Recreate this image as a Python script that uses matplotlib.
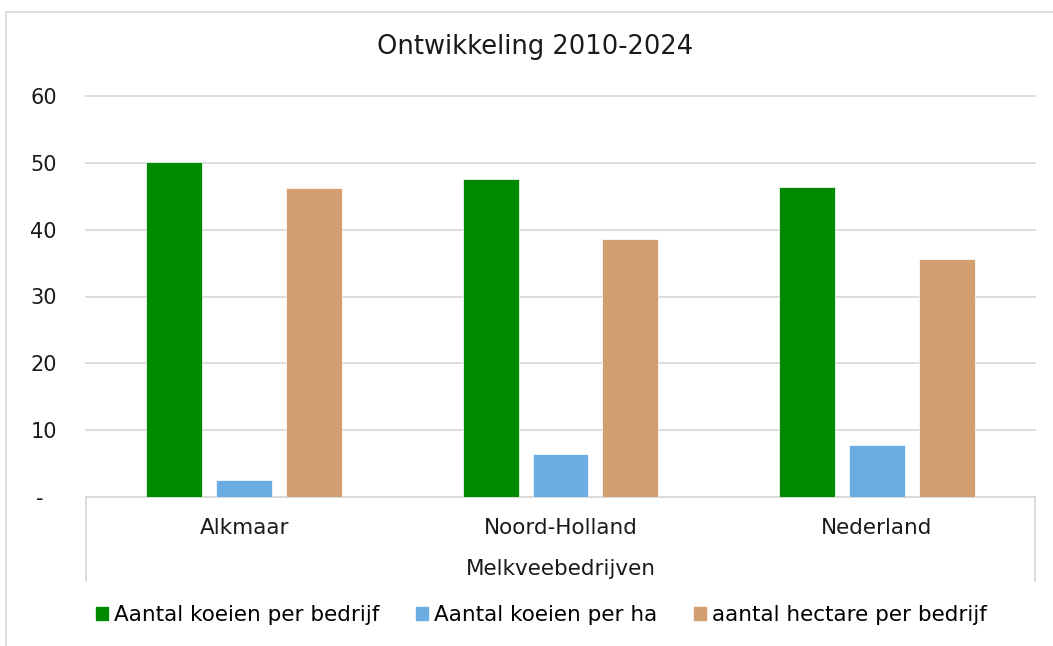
import matplotlib.pyplot as plt
import matplotlib.patches as mpatches
from matplotlib.lines import Line2D
import numpy as np

plt.rcParams['font.family'] = ['DejaVu Sans']

# data
categories = ['Alkmaar', 'Noord-Holland', 'Nederland']
series_names = ['Aantal koeien per bedrijf', 'Aantal koeien per ha', 'aantal hectare per bedrijf']
koeien_per_bedrijf = [50.15, 47.6, 46.4]
koeien_per_ha = [2.5, 6.4, 7.8]
hectare_per_bedrijf = [46.2, 38.6, 35.6]
group_label = 'Melkveebedrijven'
title = 'Ontwikkeling 2010-2024'
yticks = [0, 10, 20, 30, 40, 50, 60]
ytick_labels = ['-  ', '10', '20', '30', '40', '50', '60']

colors = ['#008A00', '#6BADE3', '#D29E72']

W, H = 1053, 646
fig = plt.figure(figsize=(W / 100, H / 100), dpi=100)

# outer chart border (runs off the right and bottom of the picture)
fig.patches.append(mpatches.Rectangle((6 / W, -0.05), 1.1, (H - 12) / H + 0.05,
                                      transform=fig.transFigure, fill=False,
                                      edgecolor='#D9D9D9', linewidth=1.2))

left, right, bottom, top = 86, 1035, 497, 96
ax = fig.add_axes([left / W, (H - bottom) / H, (right - left) / W, (bottom - top) / H])

x = np.arange(len(categories))
width = 0.177
step = 0.221
for i, vals in enumerate([koeien_per_bedrijf, koeien_per_ha, hectare_per_bedrijf]):
    ax.bar(x + (i - 1) * step, vals, width, color=colors[i], edgecolor='white',
           linewidth=0.5, zorder=3, label=series_names[i])

ax.set_xlim(-0.5, 2.5)
ax.set_ylim(0, 60)
ax.set_yticks(yticks)
ax.set_yticklabels(ytick_labels, fontsize=15, color='#1a1a1a')
ax.yaxis.grid(True, color='#D9D9D9', linewidth=1.3, zorder=0)
for gl in ax.get_ygridlines():
    gl.set_clip_on(False)
ax.tick_params(axis='y', length=0, pad=21)
ax.set_xticks([])
for s in ['top', 'right', 'left']:
    ax.spines[s].set_visible(False)
ax.spines['bottom'].set_color('#D9D9D9')
ax.spines['bottom'].set_linewidth(1.3)

# category labels (multi-level axis)
for xi, c in zip(x, categories):
    ax.text(xi, -4.6, c, ha='center', va='center', fontsize=15.5, color='#1a1a1a')
ax.text(1, -10.7, group_label, ha='center', va='center', fontsize=15.5, color='#1a1a1a')
for xe in [-0.5, 2.5]:
    ax.add_line(Line2D([xe, xe], [0, -12.6], color='#D9D9D9', linewidth=1.3, clip_on=False))

fig.text(535 / W, 1 - 47 / H, title, ha='center', va='center', fontsize=18.5, color='#1a1a1a')

handles = [mpatches.Patch(color=c) for c in colors]
fig.legend(handles, series_names, loc='center', bbox_to_anchor=(541 / W, 1 - 615 / H),
           ncol=3, frameon=False, fontsize=15.5, handlelength=0.56, handleheight=0.56,
           handletextpad=0.28, columnspacing=1.7)

fig.savefig('out.png', dpi=100)
